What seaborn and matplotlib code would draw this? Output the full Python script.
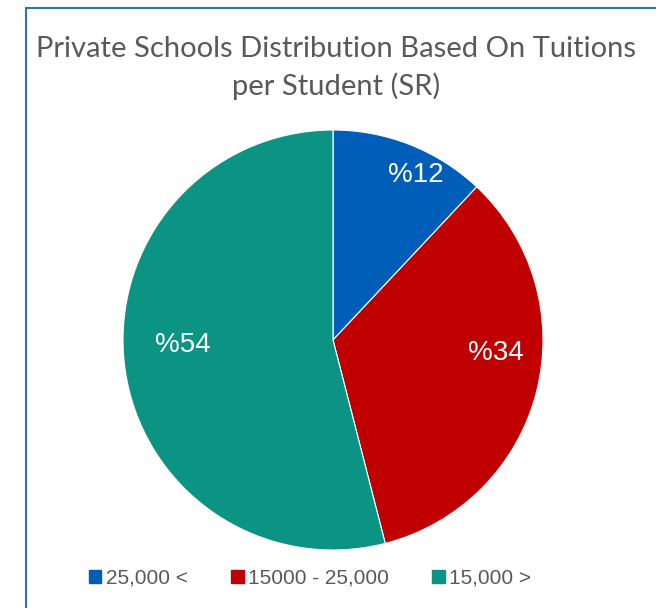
import numpy as np
import seaborn as sns
import matplotlib.pyplot as plt
from matplotlib.patches import Patch, Rectangle

# data
categories = ["25,000 <", "15000 - 25,000", "15,000 >"]
shares = [12, 34, 54]
title = "Private Schools Distribution Based On Tuitions\nper Student (SR)"

# style
colors = ["#005EB8", "#C00000", "#0B9483"]
label_r = [0.88, 0.78, 0.715]
label_ang = [26.7, 94.5, 268.0]
text_gray = "#595959"

sns.set_theme(style="white")
plt.rcParams['font.family'] = ['Liberation Sans', 'DejaVu Sans']

fig = plt.figure(figsize=(6.56, 6.08), dpi=100)
ax = fig.add_axes([123/656, 58/608, 420/656, 420/608])

wedges, _ = ax.pie(shares, colors=colors, startangle=90, counterclock=False,
                   radius=1, wedgeprops=dict(linewidth=0.8, edgecolor="white"))
ax.set_aspect("equal")
ax.set_xlim(-1, 1)
ax.set_ylim(-1, 1)

# percentage labels (written with leading % as in the source)
for val, r, a in zip(shares, label_r, label_ang):
    a = np.deg2rad(a)
    ax.text(r * np.sin(a), r * np.cos(a), f"%{val}", color="white",
            fontsize=20, ha="center", va="center")

fig.text(336/656, 1 - 68/608, title, ha="center", va="center", fontsize=21,
         color=text_gray, family=["Lato", "DejaVu Sans"], linespacing=1.45)

handles = [Patch(facecolor=c, edgecolor=c) for c in colors]
leg = fig.legend(handles, categories, loc="center", bbox_to_anchor=(310/656, 30/608),
                 ncol=3, frameon=False, fontsize=15, handlelength=0.6, handleheight=0.6,
                 handletextpad=0.2, columnspacing=2.1)
for t in leg.get_texts():
    t.set_color(text_gray)

# chart frame
fig.patches.append(Rectangle((26/656, -0.1), 2, 0.1 + 600/608, transform=fig.transFigure,
                             fill=False, edgecolor="#2E75B6", linewidth=1.5))

plt.savefig("out.png", dpi=100)
